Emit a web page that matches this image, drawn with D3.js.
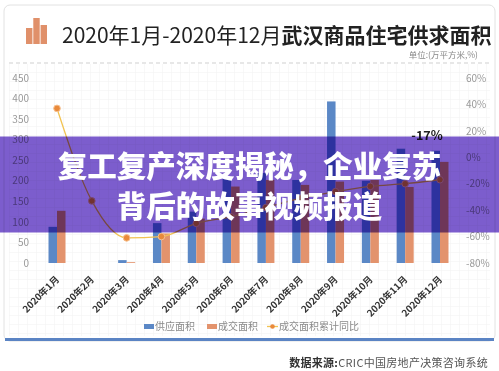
<!DOCTYPE html>
<html>
<head>
<meta charset="utf-8">
<script src="https://cdn.jsdelivr.net/npm/d3@7"></script>
<style>
  html, body { margin: 0; padding: 0; background: #fff; }
  svg { display: block; font-family: "Noto Sans CJK SC", "Noto Sans", sans-serif; }
</style>
</head>
<body>
<div id="chart"></div>
<script>
// Data
const months = ["2020年1月", "2020年2月", "2020年3月", "2020年4月", "2020年5月", "2020年6月",
  "2020年7月", "2020年8月", "2020年9月", "2020年10月", "2020年11月", "2020年12月"];
const supply = [88, 0, 7, 97, 125, 207, 219, 202, 393, 200, 278, 273];   // 供应面积
const deal = [127, 0, 2, 72, 108, 186, 202, 190, 198, 202, 185, 246];    // 成交面积
const yoy = [37, -33, -61, -60, -50, -45, -38, -31, -26, -22, -20, -17]; // 成交面积累计同比 (%)
const leftTicks = [0, 50, 100, 150, 200, 250, 300, 350, 400, 450];
const rightTicks = [-80, -60, -40, -20, 0, 20, 40, 60];
const seriesNames = ["供应面积", "成交面积", "成交面积累计同比"];

const title = "2020年1月-2020年12月";
const titleBold = "武汉商品住宅供求面积";
const unitText = "单位:(万平方米,%)";
const headline = ["复工复产深度揭秘，企业复苏", "背后的故事视频报道"];
const sourceLabel = "数据来源:";
const sourceText = "CRIC中国房地产决策咨询系统";

const W = 499, H = 371;
const colors = { supply: "#5b88c6", deal: "#e3936d", line: "#f2c352", dot: "#e98a3b" };

const svg = d3.select("#chart").append("svg")
  .attr("width", W).attr("height", H);

// faint grid pattern
const defs = svg.append("defs");
const pat = defs.append("pattern")
  .attr("id", "grid").attr("width", 9).attr("height", 9)
  .attr("patternUnits", "userSpaceOnUse");
pat.append("path").attr("d", "M9 0 L0 0 0 9").attr("fill", "none")
  .attr("stroke", "#f1f1f1").attr("stroke-width", 1);

svg.append("rect").attr("width", W).attr("height", H).attr("fill", "#fff");

// card
svg.append("rect")
  .attr("x", 4).attr("y", 5).attr("width", 491).attr("height", 336).attr("rx", 6)
  .attr("fill", "#fff").attr("stroke", "#e2e2e2");
svg.append("rect")
  .attr("x", 9).attr("y", 64).attr("width", 481).attr("height", 272)
  .attr("fill", "url(#grid)");
svg.append("path")
  .attr("d", "M5 339.5 L494 339.5")
  .attr("stroke", "#5b84c4").attr("stroke-width", 3);

// title icon
const iconBars = [16, 26, 19];
const iconX = d3.scaleBand().domain([0, 1, 2]).range([26, 47]).paddingInner(0.12);
svg.append("g").selectAll("rect").data(iconBars).join("rect")
  .attr("x", (d, i) => iconX(i)).attr("width", iconX.bandwidth())
  .attr("y", d => 44 - d).attr("height", d => d)
  .attr("fill", "#e0906a");

const t = svg.append("text").attr("x", 62).attr("y", 43)
  .attr("font-size", 21).attr("fill", "#222");
t.append("tspan").text(title);
t.append("tspan").attr("font-weight", "bold").text(titleBold);

svg.append("text").attr("x", 478).attr("y", 58).attr("text-anchor", "end")
  .attr("font-size", 8.5).attr("fill", "#888").text(unitText);
svg.append("path").attr("d", "M9 63 L489 63")
  .attr("stroke", "#cfcfcf").attr("stroke-dasharray", "4,3");

// scales
const x = d3.scaleBand().domain(months).range([39.6, 457.4]).padding(0);
const x1 = d3.scaleBand().domain(["supply", "deal"]).range([0, 17]);
const yL = d3.scaleLinear().domain([0, 450]).range([263, 78]);
const yR = d3.scaleLinear().domain([-80, 60]).range([263, 78]);

// axes
const axL = svg.append("g").attr("transform", "translate(30,0)")
  .call(d3.axisLeft(yL).tickValues(leftTicks).tickSize(0).tickPadding(1));
const axR = svg.append("g").attr("transform", "translate(465,0)")
  .call(d3.axisRight(yR).tickValues(rightTicks).tickSize(0).tickPadding(1).tickFormat(d => d + "%"));
[axL, axR].forEach(a => {
  a.select(".domain").remove();
  a.selectAll("text").attr("fill", "#999").attr("font-size", 10)
    .attr("font-family", "Noto Sans CJK SC");
});

// bars
const plot = svg.append("g");
const groups = plot.selectAll("g.month").data(months).join("g")
  .attr("class", "month")
  .attr("transform", m => `translate(${x(m) + x.bandwidth() / 2 - 8.5},0)`);
groups.append("rect")
  .attr("x", x1("supply")).attr("width", x1.bandwidth())
  .attr("y", (m, i) => yL(supply[i])).attr("height", (m, i) => yL(0) - yL(supply[i]))
  .attr("fill", colors.supply);
groups.append("rect")
  .attr("x", x1("deal")).attr("width", x1.bandwidth())
  .attr("y", (m, i) => yL(deal[i])).attr("height", (m, i) => yL(0) - yL(deal[i]))
  .attr("fill", colors.deal);

// line
const cx = m => x(m) + x.bandwidth() / 2;
const line = d3.line().x((d, i) => cx(months[i])).y(d => yR(d)).curve(d3.curveMonotoneX);
plot.append("path").datum(yoy).attr("d", line)
  .attr("fill", "none").attr("stroke", colors.line).attr("stroke-width", 1.3);
plot.selectAll("circle").data(yoy).join("circle")
  .attr("cx", (d, i) => cx(months[i])).attr("cy", d => yR(d)).attr("r", 3.3)
  .attr("fill", colors.dot).attr("stroke", "#f7c08e").attr("stroke-width", 1);

// last value label
const last = yoy.length - 1;
svg.append("text")
  .attr("x", cx(months[last]) - 13).attr("y", 139.5)
  .attr("text-anchor", "middle").attr("font-size", 12.5).attr("font-weight", "bold")
  .attr("fill", "#222").text(yoy[last] + "%");

// x labels
svg.append("g").selectAll("text").data(months).join("text")
  .attr("transform", m => `translate(${cx(m) + 3},280) rotate(-45)`)
  .attr("text-anchor", "end").attr("font-size", 9.5).attr("font-weight", "bold")
  .attr("fill", "#333").text(d => d);

// legend
const lg = svg.append("g").attr("font-size", 10).attr("fill", "#8a8a8a");
const legendX = [144, 207, 267];
lg.append("rect").attr("x", legendX[0]).attr("y", 324).attr("width", 10).attr("height", 5).attr("fill", colors.supply);
lg.append("text").attr("x", legendX[0] + 11).attr("y", 330).text(seriesNames[0]);
lg.append("rect").attr("x", legendX[1]).attr("y", 324).attr("width", 10).attr("height", 5).attr("fill", colors.deal);
lg.append("text").attr("x", legendX[1] + 11).attr("y", 330).text(seriesNames[1]);
lg.append("path").attr("d", `M${legendX[2]} 326.5 L${legendX[2] + 11} 326.5`)
  .attr("stroke", colors.line).attr("stroke-width", 1.3);
lg.append("circle").attr("cx", legendX[2] + 5.5).attr("cy", 326.5).attr("r", 2.3).attr("fill", colors.dot);
lg.append("text").attr("x", legendX[2] + 12).attr("y", 330).text(seriesNames[2]);

// source
const src = svg.append("text").attr("x", 488).attr("y", 367).attr("text-anchor", "end")
  .attr("font-size", 11).attr("letter-spacing", 0.3);
src.append("tspan").attr("font-weight", "bold").attr("fill", "#333").text(sourceLabel);
src.append("tspan").attr("fill", "#555").text(sourceText);

// headline banner
svg.append("rect").attr("x", 0).attr("y", 136.5).attr("width", W).attr("height", 96)
  .attr("fill", "#7c5dcd").style("mix-blend-mode", "multiply");
svg.append("g").selectAll("text").data(headline).join("text")
  .attr("x", W / 2).attr("y", (d, i) => 177 + i * 40)
  .attr("text-anchor", "middle").attr("font-size", 29.5).attr("font-weight", 900)
  .attr("fill", "#fff").text(d => d);
</script>
</body>
</html>
